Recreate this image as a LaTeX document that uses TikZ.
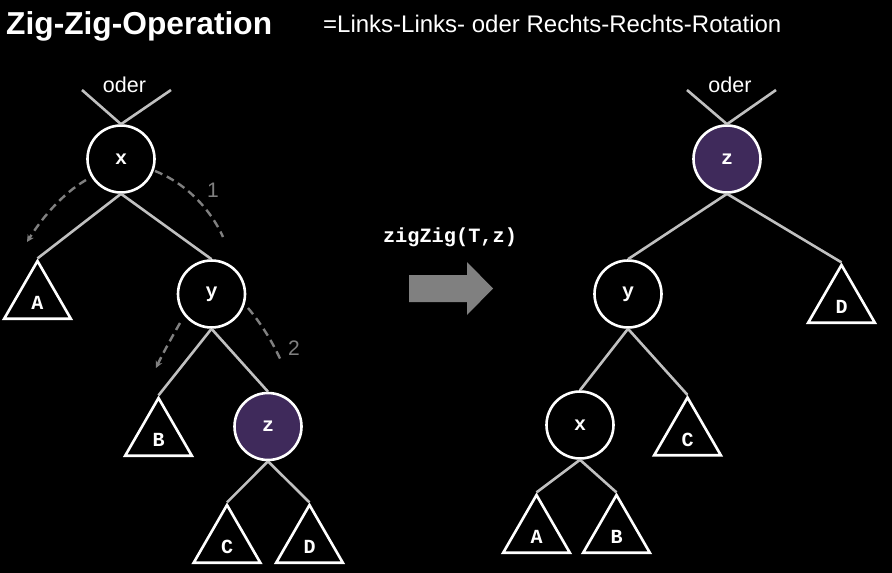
\documentclass[tikz,border=0pt]{standalone}
\usepackage{fontspec}
\setmainfont{Liberation Sans}
\setmonofont{Liberation Mono}
\usetikzlibrary{shapes.geometric,arrows.meta}
\definecolor{edgegray}{HTML}{C0C0C0}
\definecolor{dashgray}{HTML}{808080}
\definecolor{zpurple}{HTML}{3F2A5B}
\begin{document}
\begin{tikzpicture}[x=1pt,y=-1pt,
  keynode/.style={circle,draw=white,line width=2.6pt,minimum size=67pt,inner sep=0pt,
    text=white,font=\fontsize{20}{20}\selectfont\ttfamily\bfseries},
  hotnode/.style={keynode,fill=zpurple},
  subtree/.style={regular polygon,regular polygon sides=3,draw=white,line width=2.6pt,
    minimum size=77pt,inner sep=0pt,text=white,text height=20pt,text depth=0pt,
    font=\fontsize{20}{20}\selectfont\ttfamily\bfseries},
  treeedge/.style={draw=edgegray,line width=2.6pt},
  rotpath/.style={draw=dashgray,line width=2.4pt,dash pattern=on 8pt off 5pt},
  rotarrow/.style={rotpath,-{Stealth[length=7pt,width=7pt]}},
  steplabel/.style={text=dashgray,font=\fontsize{21}{21}\selectfont,anchor=base},
  oderlabel/.style={text=white,font=\fontsize{21.5}{21.5}\selectfont,anchor=base}
]
\fill[black] (0,0) rectangle (892,573);
\useasboundingbox (0,0) rectangle (892,573);

% headings
\node[anchor=base west,inner sep=0pt,text=white,font=\fontsize{31.7}{31.7}\selectfont\bfseries] (title) at (6,34) {Zig-Zig-Operation};
\node[anchor=base west,inner sep=0pt,text=white,font=\fontsize{24}{24}\selectfont] (subtitle) at (323,32) {=Links-Links- oder Rechts-Rechts-Rotation};

% ---------- left tree ----------
\node[keynode] (lx) at (121,159) {x};
\node[keynode] (ly) at (211.5,294) {y};
\node[hotnode] (lz) at (268,426.5) {z};
\node[subtree] (lA) at (37.5,299.5) {A};
\node[subtree] (lB) at (158.5,436.5) {B};
\node[subtree] (lC) at (227,543.5) {C};
\node[subtree] (lD) at (309.5,543.5) {D};

\node[oderlabel] (loder) at (124.5,92) {oder};
\coordinate (lpl) at (82,90);
\coordinate (lpr) at (171,90);
\draw[treeedge] (lpl) -- (lx.north);
\draw[treeedge] (lpr) -- (lx.north);
\draw[treeedge] (lx.south) -- (lA.corner 1);
\draw[treeedge] (lx.south) -- (ly.north);
\draw[treeedge] (ly.south) -- (lB.corner 1);
\draw[treeedge] (ly.south) -- (lz.north);
\draw[treeedge] (lz.south) -- (lC.corner 1);
\draw[treeedge] (lz.south) -- (lD.corner 1);

% rotation hints
\coordinate (r1a) at (86,180);
\coordinate (r1b) at (27,242);
\coordinate (r2a) at (155,171);
\coordinate (r2b) at (223,237);
\coordinate (r3a) at (248,308);
\coordinate (r3b) at (282,363);
\coordinate (r4a) at (180,323);
\coordinate (r4b) at (156,368);
\draw[rotarrow] (r1a) .. controls (62,194) and (42,218) .. (r1b);
\draw[rotpath] (r2a) .. controls (185,183) and (210,208) .. (r2b);
\draw[rotpath] (r3a) .. controls (259,321) and (272,340) .. (r3b);
\draw[rotarrow] (r4a) .. controls (172,337) and (163,353) .. (r4b);
\node[steplabel] (one) at (213,197) {1};
\node[steplabel] (two) at (294,355) {2};

% ---------- middle arrow ----------
\node[anchor=base,inner sep=0pt,text=white,font=\fontsize{20.3}{20.3}\selectfont\ttfamily\bfseries] (call) at (450,242) {zigZig(T,z)};
\fill[dashgray] (409,275) -- (467,275) -- (467,262) -- (493,288.5) -- (467,315) -- (467,302) -- (409,302) -- cycle;

% ---------- right tree ----------
\node[hotnode] (rz) at (727,159) {z};
\node[keynode] (ry) at (628,294) {y};
\node[keynode] (rx) at (580,425) {x};
\node[subtree] (rD) at (841.5,303.5) {D};
\node[subtree] (rC) at (687.5,436) {C};
\node[subtree] (rA) at (536.5,533.5) {A};
\node[subtree] (rB) at (616.5,533.5) {B};

\node[oderlabel] (roder) at (730,92) {oder};
\coordinate (rpl) at (687,90);
\coordinate (rpr) at (776,90);
\draw[treeedge] (rpl) -- (rz.north);
\draw[treeedge] (rpr) -- (rz.north);
\draw[treeedge] (rz.south) -- (ry.north);
\draw[treeedge] (rz.south) -- (rD.corner 1);
\draw[treeedge] (ry.south) -- (rx.north);
\draw[treeedge] (ry.south) -- (rC.corner 1);
\draw[treeedge] (rx.south) -- (rA.corner 1);
\draw[treeedge] (rx.south) -- (rB.corner 1);
\end{tikzpicture}
\end{document}
